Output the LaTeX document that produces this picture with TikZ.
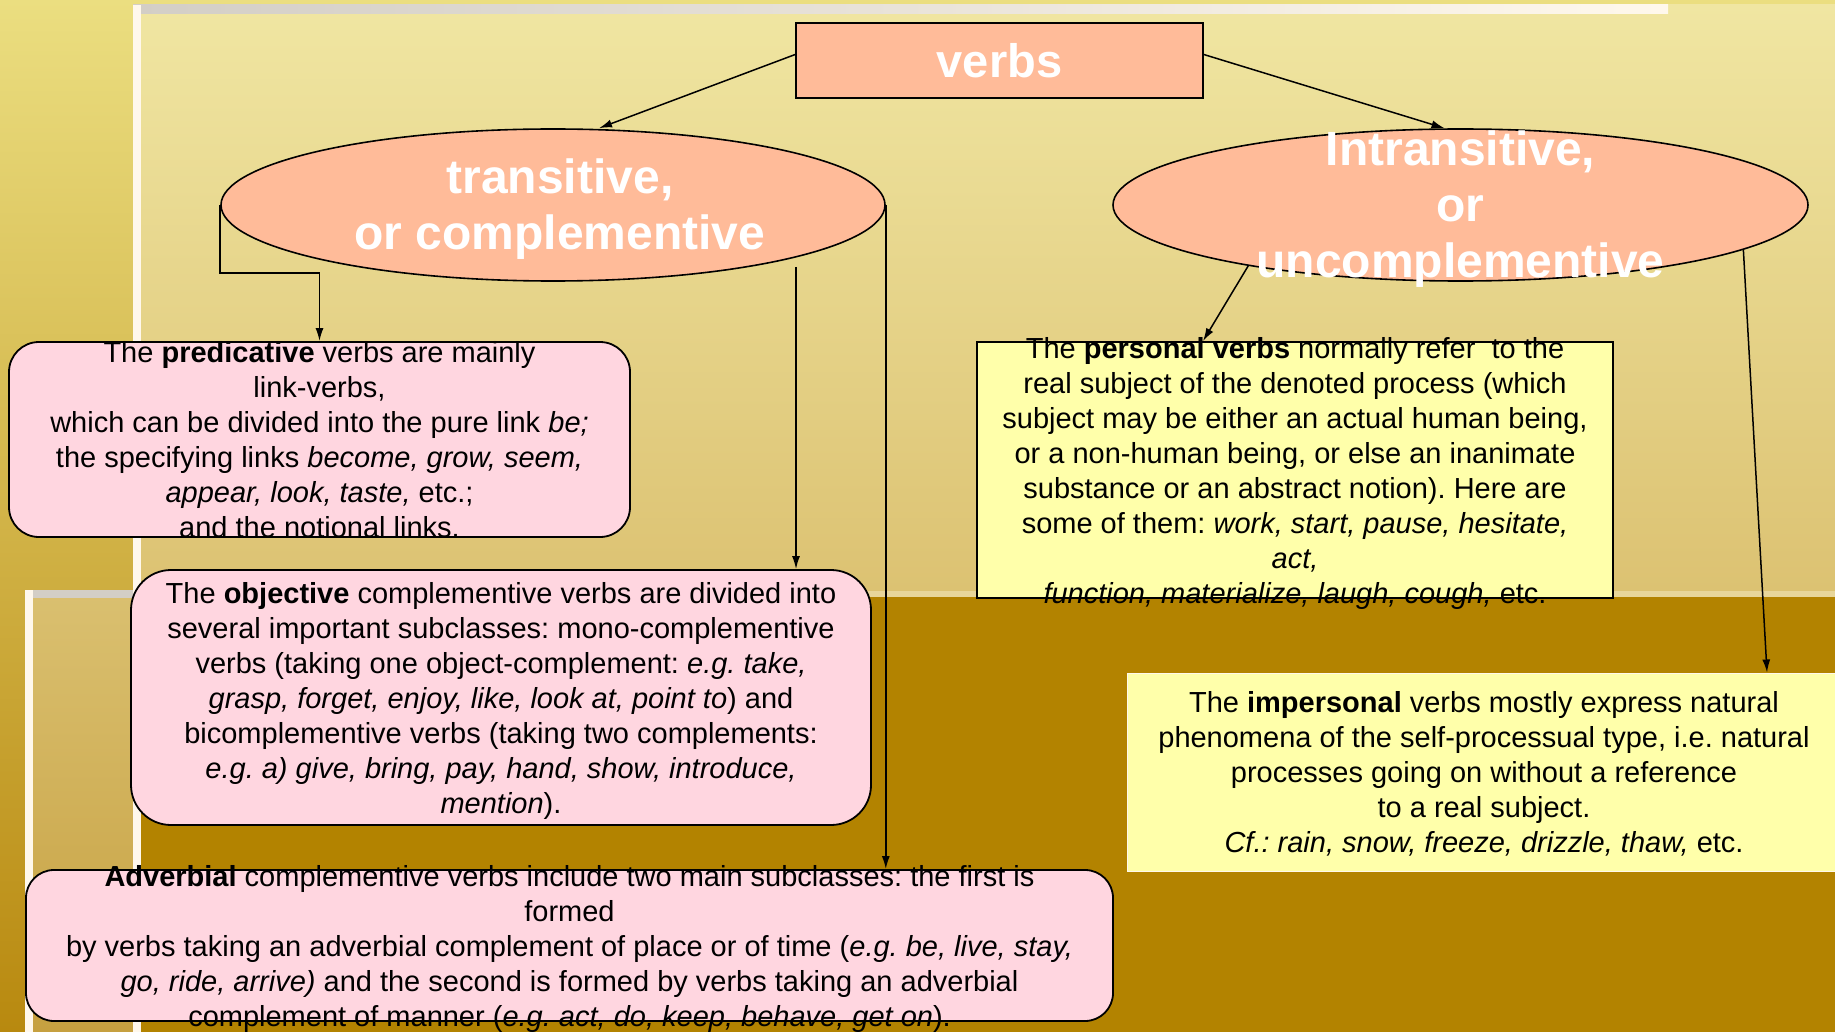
\documentclass[tikz,border=0pt]{standalone}
\usepackage{fontspec}
\setmainfont{Liberation Sans}
\usepackage{tikz}
\usetikzlibrary{arrows.meta,shapes.geometric}
\definecolor{salmon}{HTML}{FFBB99}
\definecolor{pinkfill}{HTML}{FFD6E0}
\definecolor{yellowfill}{HTML}{FFFFAA}
\definecolor{darkgold}{HTML}{B38300}
\definecolor{bgtop}{HTML}{EBDE80}
\definecolor{bgmid}{HTML}{D4B44C}
\definecolor{bgbot}{HTML}{B8890F}
\definecolor{paneltop}{HTML}{F0E6A2}
\definecolor{panelbot}{HTML}{DCC272}
\definecolor{lowtop}{HTML}{DAC070}
\definecolor{lowbot}{HTML}{C6A040}
\definecolor{bevelgrey}{HTML}{D3CEC6}
\definecolor{bevelwhite}{HTML}{FFF8EC}
\definecolor{panelline}{HTML}{E8D69A}
\newcommand{\boxtext}[2][-10pt]{\raisebox{#1}[0pt][0pt]{\begin{tabular}{@{}c@{}}#2\end{tabular}}}
\frenchspacing

\begin{document}
\begin{tikzpicture}[
    x=1pt, y=-1pt,
    % --- node styles ---
    topbox/.style={
      rectangle, draw=black, line width=1.6pt, fill=salmon,
      minimum width=407pt, minimum height=75pt, inner sep=0pt,
      text=white, font=\fontsize{47}{56}\selectfont\bfseries},
    branch/.style={
      ellipse, draw=black, line width=1.6pt, fill=salmon,
      minimum height=152pt, inner sep=0pt,
      text=white, font=\fontsize{48}{56}\selectfont\bfseries},
    pinkbox/.style={
      rectangle, rounded corners=30pt, draw=black, line width=1.8pt,
      fill=pinkfill, inner sep=0pt, font=\fontsize{29}{35}\selectfont},
    yellowbox/.style={
      rectangle, draw=black, line width=1.8pt, fill=yellowfill,
      inner sep=0pt, font=\fontsize{29}{35}\selectfont},
    arr/.style={-{Latex[length=13pt,width=8pt]}, line width=1.5pt, draw=black},
  ]
  \useasboundingbox (0,0) rectangle (1835,1032);

  % ============== BACKGROUND ==============
  \shade[top color=bgtop, middle color=bgmid, bottom color=bgbot] (0,0) rectangle (1835,1032);
  \shade[top color=paneltop, bottom color=panelbot] (133,5) rectangle (1835,591);
  \shade[left color=bevelgrey, right color=bevelwhite] (133,5) rectangle (1668,14);
  \fill[panelline] (141,591) rectangle (1835,597);
  \fill[darkgold] (141,597) rectangle (1835,1032);
  \shade[top color=lowtop, bottom color=lowbot] (25,590) rectangle (133,1032);
  \fill[bevelgrey] (25,590) rectangle (133,598);
  \fill[bevelwhite] (25,590) rectangle (33,1032);
  \fill[bevelwhite] (133,5) rectangle (141,1032);

  % ============== TOP AND BRANCHES ==============
  \node[topbox] (verbs) at (999.5,60.5) {verbs};
  \node[branch, minimum width=664pt] (trans) at (553,205)
    {\hspace*{14pt}\boxtext[-12pt]{transitive,\\or complementive}};
  \node[branch, minimum width=695pt] (intrans) at (1460.5,205)
    {\boxtext[-12pt]{Intransitive,\\or\\uncomplementive}};

  % ============== TRANSITIVE SUBCLASSES ==============
  \node[pinkbox, minimum width=621pt, minimum height=195pt] (pred) at (319.5,439.5)
    {\boxtext{The \textbf{predicative} verbs are mainly\\
      link-verbs,\\
      which can be divided into the pure link \textit{be;}\\
      the specifying links \textit{become, grow, seem,}\\
      \textit{appear, look, taste,} etc.;\\
      and the notional links.}};
  \node[pinkbox, rounded corners=40pt, minimum width=740pt, minimum height=255pt] (obj) at (501,697.5)
    {\boxtext{The \textbf{objective} complementive verbs are divided into\\
      several important subclasses: mono-complementive\\
      verbs (taking one object-complement: \textit{e.g. take,}\\
      \textit{grasp, forget, enjoy, like, look at, point to}) and\\
      bicomplementive verbs (taking two complements:\\
      \textit{e.g. a) give, bring, pay, hand, show, introduce,}\\
      \textit{mention}).}};
  \node[pinkbox, rounded corners=28pt, minimum width=1087pt, minimum height=151pt] (adv) at (569.5,945.5)
    {\boxtext{\textbf{Adverbial} complementive verbs include two main subclasses: the first is\\
      formed\\
      by verbs taking an adverbial complement of place or of time (\textit{e.g. be, live, stay,}\\
      \textit{go, ride, arrive)} and the second is formed by verbs taking an adverbial\\
      complement of manner (\textit{e.g. act, do, keep, behave, get on}).}};

  % ============== INTRANSITIVE SUBCLASSES ==============
  \node[yellowbox, minimum width=636pt, minimum height=256pt] (pers) at (1295,470)
    {\boxtext{The \textbf{personal verbs} normally refer~ to the\\
      real subject of the denoted process (which\\
      subject may be either an actual human being,\\
      or a non-human being, or else an inanimate\\
      substance or an abstract notion). Here are\\
      some of them: \textit{work, start, pause, hesitate,}\\
      \textit{act,}\\
      \textit{function, materialize, laugh, cough,} etc.}};
  \node[yellowbox, draw=bevelwhite, line width=1pt, minimum width=714pt, minimum height=198pt] (imp) at (1484,772)
    {\boxtext{The \textbf{impersonal} verbs mostly express natural\\
      phenomena of the self-processual type, i.e. natural\\
      processes going on without a reference\\
      to a real subject.\\
      \textit{Cf.: rain, snow, freeze, drizzle, thaw,} etc.}};

  % ============== ARROWS ==============
  \draw[arr] ([yshift=6pt]verbs.west) -- ([xshift=46pt]trans.north);
  \draw[arr] ([yshift=6pt]verbs.east) -- ([xshift=-16pt]intrans.north);

  \draw[arr] (trans.west) -- ++(0,68) -| (pred.north);
  \coordinate (objsrc) at ([xshift=243pt,yshift=15pt]trans.south);
  \draw[arr] (objsrc) -- (objsrc |- obj.north);
  \draw[arr] (trans.east) -- (trans.east |- adv.north);

  \draw[arr] (intrans.196.5) -- ([xshift=-92pt]pers.north);
  \draw[arr] (intrans.351.5) -- ([xshift=283pt]imp.north);

\end{tikzpicture}
\end{document}
